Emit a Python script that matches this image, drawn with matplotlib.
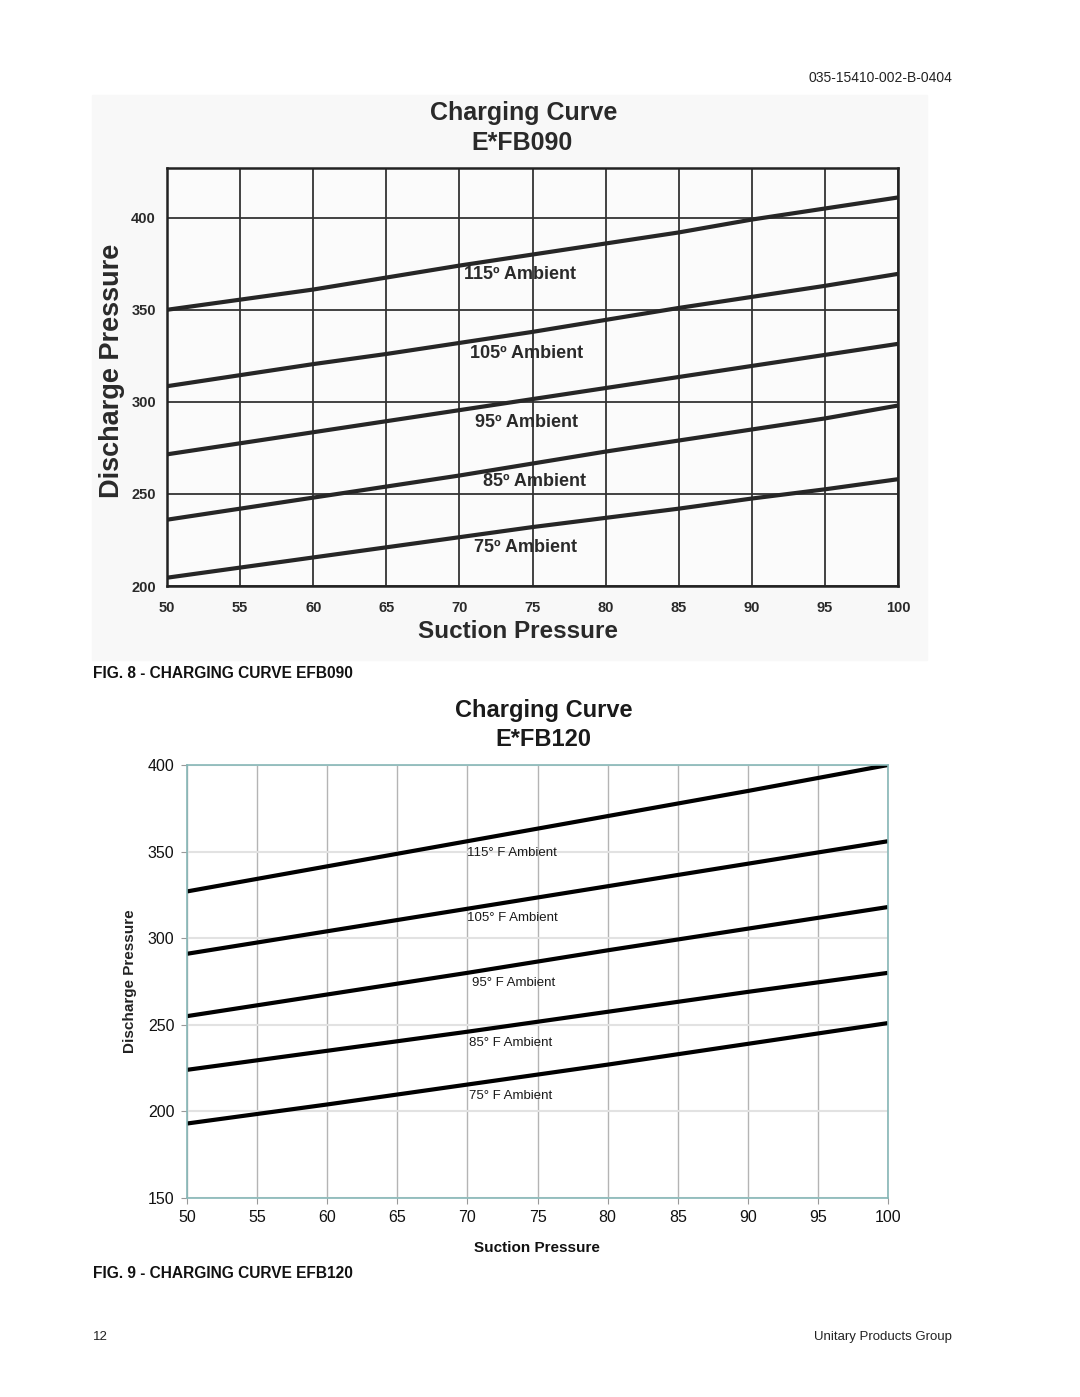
import matplotlib
matplotlib.use("Agg")
import matplotlib.pyplot as plt
from matplotlib.patches import Rectangle

plt.rcParams['font.family'] = ['Liberation Sans', 'DejaVu Sans']

# ---- datos E*FB090 (grafica escaneada de arriba)
suction_090 = [50, 55, 60, 65, 70, 75, 80, 85, 90, 95, 100]
amb115_090 = [350, 355.5, 361, 367.5, 374, 380, 386, 392, 399, 405, 411]
amb105_090 = [308.5, 314.5, 320.5, 326, 332, 338, 344.5, 351, 357, 363, 369.5]
amb95_090 = [271.5, 277.5, 283.5, 289.5, 295.5, 301.5, 307.5, 313.5, 319.5, 325.5, 331.5]
amb85_090 = [236, 242, 248, 254, 260, 266.5, 273, 279, 285, 291, 298]
amb75_090 = [204.5, 210, 215.5, 221, 226.5, 232, 237, 242, 247.5, 252.5, 258]
labels_090 = ["115º Ambient", "105º Ambient", "95º Ambient", "85º Ambient", "75º Ambient"]

# ---- datos E*FB120 (grafica de abajo)
suction_120 = [50, 60, 70, 80, 90, 100]
amb115_120 = [327, 341.5, 356, 370.5, 385, 400]
amb105_120 = [291, 304, 317, 330, 343, 356]
amb95_120 = [255, 267.5, 280, 293, 305.5, 318]
amb85_120 = [224, 235, 246, 257.5, 269, 280]
amb75_120 = [193, 204, 215.5, 227, 239, 251]
labels_120 = ["115° F Ambient", "105° F Ambient", "95° F Ambient", "85° F Ambient", "75° F Ambient"]

x_ticks = [50, 55, 60, 65, 70, 75, 80, 85, 90, 95, 100]
y_ticks_090 = [200, 250, 300, 350, 400]
y_ticks_120 = [150, 200, 250, 300, 350, 400]

W, H = 1080, 1397
fig = plt.figure(figsize=(W / 100, H / 100), dpi=100)
fig.patch.set_facecolor('white')


def fx(px):
    return px / W


def fy(py):
    return 1 - py / H


# fondo gris claro del escaneo
bg = Rectangle((fx(92), fy(660)), fx(927) - fx(92), (660 - 95) / H,
               transform=fig.transFigure, color='#f8f8f8', zorder=-10)
fig.patches.append(bg)

dark = '#2a2a2a'

# ================= grafica 1 =================
ax1 = fig.add_axes([fx(167), fy(586), fx(898) - fx(167), (586 - 168) / H])
ax1.set_zorder(5)
ax1.set_facecolor('#fbfbfb')
ax1.set_xlim(50, 100)
ax1.set_ylim(200, 427)
ax1.set_xticks(x_ticks)
ax1.set_yticks(y_ticks_090)
ax1.tick_params(length=0, labelsize=10.5, colors=dark)
ax1.tick_params(axis='x', pad=11)
ax1.tick_params(axis='y', pad=8)
for lb in ax1.get_xticklabels() + ax1.get_yticklabels():
    lb.set_fontweight('bold')
ax1.grid(True, color='#333333', lw=1.3)
ax1.set_axisbelow(True)
for s in ax1.spines.values():
    s.set_color('#222222')
    s.set_linewidth(1.8)

series_090 = [amb115_090, amb105_090, amb95_090, amb85_090, amb75_090]
for ys in series_090:
    ax1.plot(suction_090, ys, color='#262626', lw=3, solid_capstyle='butt')

lab_pos_090 = [(70.3, 369), (70.75, 326), (71.1, 288.7), (71.6, 256.5), (71.0, 221)]
for txt, (lx, ly) in zip(labels_090, lab_pos_090):
    ax1.text(lx, ly, txt, fontsize=13, fontweight='bold', color=dark, ha='left', va='center')

fig.text(fx(524), fy(113), "Charging Curve", fontsize=18, fontweight='bold', color=dark,
         ha='center', va='center')
fig.text(fx(522), fy(143), "E*FB090", fontsize=18, fontweight='bold', color=dark,
         ha='center', va='center')
fig.text(fx(112), fy(371), "Discharge Pressure", fontsize=19.5, fontweight='bold', color=dark,
         ha='center', va='center', rotation=90)
fig.text(fx(518), fy(632), "Suction Pressure", fontsize=17.5, fontweight='bold', color=dark,
         ha='center', va='center')

# ================= grafica 2 =================
teal = '#86b6b6'
ax2 = fig.add_axes([fx(187), fy(1198), fx(888) - fx(187), (1198 - 765) / H])
ax2.set_xlim(50, 100)
ax2.set_ylim(150, 400)
ax2.set_xticks(x_ticks)
ax2.set_yticks(y_ticks_120)
ax2.tick_params(length=4, width=0.8, color='#999999', labelsize=11.5, labelcolor='#111111', pad=5)
ax2.xaxis.grid(True, color='#b4b4b4', lw=1)
ax2.yaxis.grid(True, color='#e2e2e2', lw=1.5)
ax2.set_axisbelow(True)
for s in ax2.spines.values():
    s.set_color(teal)
    s.set_linewidth(1.2)

series_120 = [amb115_120, amb105_120, amb95_120, amb85_120, amb75_120]
for ys in series_120:
    ax2.plot(suction_120, ys, color='black', lw=3, solid_capstyle='butt')

lab_pos_120 = [(70.0, 349.3), (70.0, 311.8), (70.3, 274), (70.1, 239.7), (70.1, 209)]
for txt, (lx, ly) in zip(labels_120, lab_pos_120):
    ax2.text(lx, ly, txt, fontsize=9.5, color='#1a1a1a', ha='left', va='center')

fig.text(fx(543.5), fy(711), "Charging Curve", fontsize=17, fontweight='bold', color='#1a1a1a',
         ha='center', va='center')
fig.text(fx(543.5), fy(740), "E*FB120", fontsize=17, fontweight='bold', color='#1a1a1a',
         ha='center', va='center')
fig.text(fx(130), fy(981), "Discharge Pressure", fontsize=11, fontweight='bold', color='#222222',
         ha='center', va='center', rotation=90)
fig.text(fx(537), fy(1248), "Suction Pressure", fontsize=11, fontweight='bold', color='#111111',
         ha='center', va='center')

# ---- textos de la pagina
fig.text(fx(952), fy(78), "035-15410-002-B-0404", fontsize=10, color='#222222', ha='right', va='center')
fig.text(fx(93), fy(673), "FIG. 8 - CHARGING CURVE EFB090", fontsize=11.2, fontweight='bold',
         color='#111111', ha='left', va='center')
fig.text(fx(93), fy(1273), "FIG. 9 - CHARGING CURVE EFB120", fontsize=11.2, fontweight='bold',
         color='#111111', ha='left', va='center')
fig.text(fx(93), fy(1337), "12", fontsize=9.5, color='#222222', ha='left', va='center')
fig.text(fx(952), fy(1337), "Unitary Products Group", fontsize=9.5, color='#222222',
         ha='right', va='center')

fig.savefig("out.png", dpi=100)
